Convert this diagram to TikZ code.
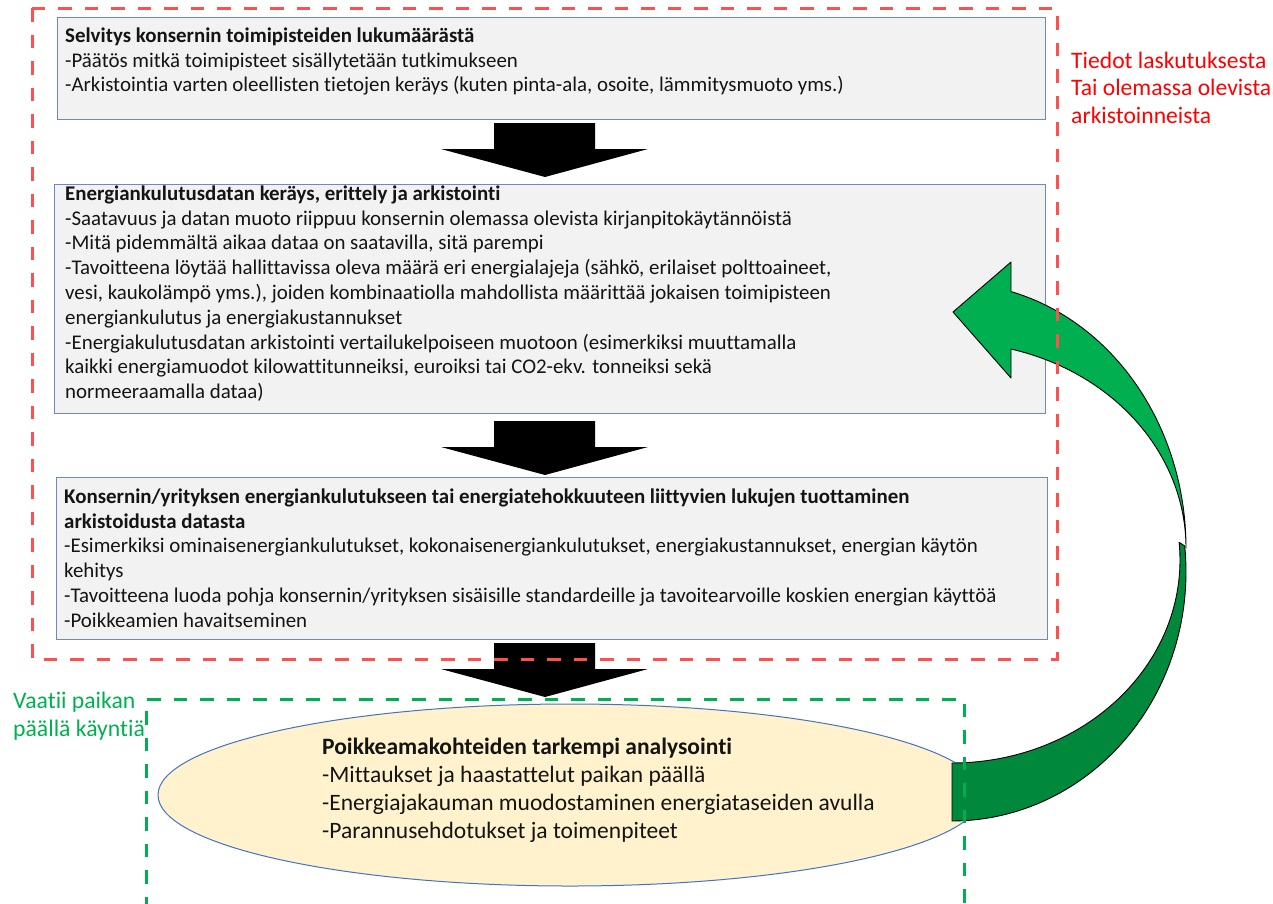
\documentclass[tikz,border=0pt]{standalone}
\usepackage{fontspec}
\setmainfont{Carlito}[Ligatures=NoCommon]
\usetikzlibrary{shapes.geometric}

\definecolor{boxfill}{RGB}{242,242,242}
\definecolor{boxline}{RGB}{108,138,192}
\definecolor{ellfill}{RGB}{255,242,204}
\definecolor{ellline}{RGB}{68,114,196}
\definecolor{redframe}{RGB}{255,80,80}
\definecolor{redtext}{RGB}{255,0,0}
\definecolor{greenframe}{RGB}{0,176,80}
\definecolor{arrowlight}{RGB}{0,176,80}
\definecolor{arrowdark}{RGB}{0,137,60}
\definecolor{bodytext}{RGB}{20,20,20}

\begin{document}
\begin{tikzpicture}[x=1pt,y=-1pt,
  stepbox/.style={draw=boxline, fill=boxfill, line width=1.3pt, inner sep=0pt, anchor=north west},
  blocktext/.style={anchor=north west, inner sep=0pt, align=left, text=bodytext,
    font=\fontsize{20.9}{24.8}\selectfont},
  bigtext/.style={anchor=north west, inner sep=0pt, align=left,
    font=\fontsize{23.5}{28}\selectfont},
  frame/.style={line width=3pt, dash pattern=on 13.5pt off 13pt},
  blockdown/.pic={\fill[black] (-51,0) -- (50,0) -- (50,26) -- (103,26) -- (0,54)
     -- (-104,26) -- (-51,26) -- cycle;},
  curvedge/.style={draw=black, line width=0.9pt, line join=round}
]
\useasboundingbox (0,0) rectangle (1273,903);

% process boxes
\node[stepbox, minimum width=988pt, minimum height=102pt] (b1) at (57,17) {};
\node[stepbox, minimum width=991pt, minimum height=229pt] (b2) at (54,184) {};
\node[stepbox, minimum width=991pt, minimum height=162pt] (b3) at (56,477) {};

\node[blocktext] (t1) at (65,23) {\rule{0pt}{19pt}\textbf{Selvitys konsernin toimipisteiden lukumäärästä}\\
-Päätös mitkä toimipisteet sisällytetään tutkimukseen\\
-Arkistointia varten oleellisten tietojen keräys (kuten pinta-ala, osoite, lämmitysmuoto yms.)};

\node[blocktext] (t2) at (65,181) {\rule{0pt}{19pt}\textbf{Energiankulutusdatan keräys, erittely ja arkistointi}\\
-Saatavuus ja datan muoto riippuu konsernin olemassa olevista kirjanpitokäytännöistä\\
-Mitä pidemmältä aikaa dataa on saatavilla, sitä parempi\\
-Tavoitteena löytää hallittavissa oleva määrä eri energialajeja (sähkö, erilaiset polttoaineet,\\
vesi, kaukolämpö yms.), joiden kombinaatiolla mahdollista määrittää jokaisen toimipisteen\\
energiankulutus ja energiakustannukset\\
-Energiakulutusdatan arkistointi vertailukelpoiseen muotoon (esimerkiksi muuttamalla\\
kaikki energiamuodot kilowattitunneiksi, euroiksi tai CO2-ekv. tonneiksi sekä\\
normeeraamalla dataa)};

\node[blocktext] (t3) at (64,484) {\rule{0pt}{19pt}\textbf{Konsernin/yrityksen energiankulutukseen tai energiatehokkuuteen liittyvien lukujen tuottaminen}\\
\textbf{arkistoidusta datasta}\\
-Esimerkiksi ominaisenergiankulutukset, kokonaisenergiankulutukset, energiakustannukset, energian käytön\\
kehitys\\
-Tavoitteena luoda pohja konsernin/yrityksen sisäisille standardeille ja tavoitearvoille koskien energian käyttöä\\
-Poikkeamien havaitseminen};

% block arrows between the steps
\coordinate (a1) at (545,123);
\coordinate (a2) at (545,421);
\coordinate (a3) at (545,643);
\pic at (a1) {blockdown};
\pic at (a2) {blockdown};
\pic at (a3) {blockdown};

% analysis ellipse
\node[draw=ellline, fill=ellfill, line width=1pt, ellipse, minimum width=824pt, minimum height=182pt, inner sep=0pt] (ell) at (570,795) {};
\node[bigtext, text=bodytext] (t4) at (322,733) {\rule{0pt}{21pt}\textbf{Poikkeamakohteiden tarkempi analysointi}\\
-Mittaukset ja haastattelut paikan päällä\\
-Energiajakauman muodostaminen energiataseiden avulla\\
-Parannusehdotukset ja toimenpiteet};

% feedback arrow: back half (dark) then front half with head (light)
\coordinate (fbtip) at (953,312);
\path[fill=arrowdark, curvedge]
  plot[domain=-6:90, samples=60] ({952+234*cos(\x)},{572+249*sin(\x)})
  -- plot[domain=90:-5, samples=60] ({952+228*cos(\x)},{560+203*sin(\x)})
  -- cycle;
\path[fill=arrowlight, curvedge]
  (fbtip) -- (1011,262) -- (1011,291.5)
  -- plot[domain=-75.4:0, samples=60] ({952+234*cos(\x)},{548+265*sin(\x)})
  -- plot[domain=0:-75.4, samples=60] ({952+234*cos(\x)},{548+205.6*sin(\x)})
  -- (1011,378) -- cycle;

% dashed grouping frames
\draw[frame, draw=redframe] (32,8) rectangle (1057,659);
\draw[frame, draw=greenframe] (146,910) -- (146,699) -- (964,699) -- (964,910);

\node[bigtext, text=redtext, font=\fontsize{23.6}{27.5}\selectfont] (red) at (1071,47) {\rule{0pt}{21pt}Tiedot laskutuksesta\\
Tai olemassa olevista\\
arkistoinneista};
\node[bigtext, text=greenframe, font=\fontsize{23.7}{28}\selectfont] (green) at (13,687) {\rule{0pt}{21pt}Vaatii paikan\\
päällä käyntiä};
\end{tikzpicture}
\end{document}
